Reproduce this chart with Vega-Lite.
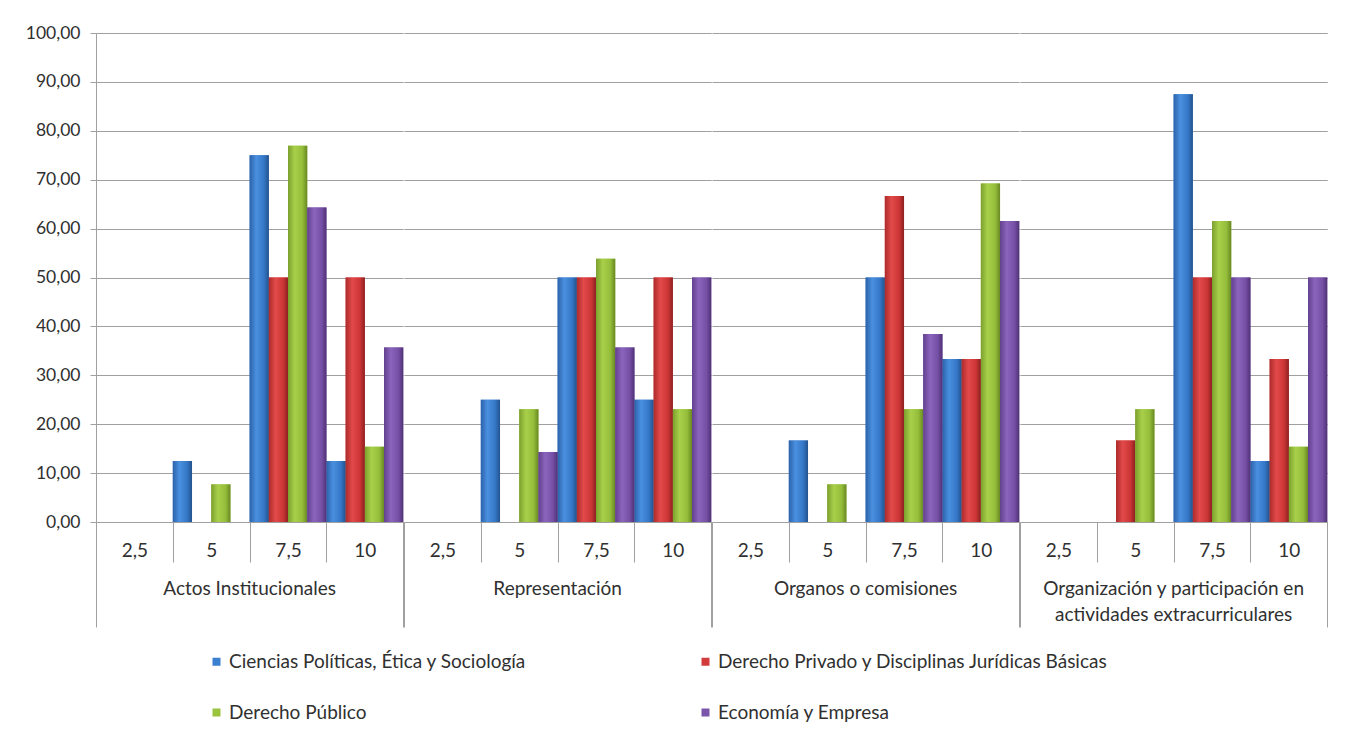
{
  "$schema": "https://vega.github.io/schema/vega-lite/v6.json",
  "background": "white",
  "padding": {"left": 25, "top": 24, "right": 5, "bottom": 5},
  "config": {
    "font": "Lato",
    "view": {"stroke": null},
    "axis": {"labelFont": "Lato", "labelColor": "#303030"},
    "header": {"labelFont": "Lato"},
    "legend": {"labelFont": "Lato"}
  },
  "data": {
    "values": [
      {"grupo": "Actos Institucionales", "nota": "5", "area": "Ciencias Políticas, Ética y Sociología", "valor": 12.5},
      {"grupo": "Actos Institucionales", "nota": "5", "area": "Derecho Público", "valor": 7.69},
      {"grupo": "Actos Institucionales", "nota": "7,5", "area": "Ciencias Políticas, Ética y Sociología", "valor": 75},
      {"grupo": "Actos Institucionales", "nota": "7,5", "area": "Derecho Privado y Disciplinas Jurídicas Básicas", "valor": 50},
      {"grupo": "Actos Institucionales", "nota": "7,5", "area": "Derecho Público", "valor": 76.92},
      {"grupo": "Actos Institucionales", "nota": "7,5", "area": "Economía y Empresa", "valor": 64.29},
      {"grupo": "Actos Institucionales", "nota": "10", "area": "Ciencias Políticas, Ética y Sociología", "valor": 12.5},
      {"grupo": "Actos Institucionales", "nota": "10", "area": "Derecho Privado y Disciplinas Jurídicas Básicas", "valor": 50},
      {"grupo": "Actos Institucionales", "nota": "10", "area": "Derecho Público", "valor": 15.38},
      {"grupo": "Actos Institucionales", "nota": "10", "area": "Economía y Empresa", "valor": 35.71},
      {"grupo": "Representación", "nota": "5", "area": "Ciencias Políticas, Ética y Sociología", "valor": 25},
      {"grupo": "Representación", "nota": "5", "area": "Derecho Público", "valor": 23.08},
      {"grupo": "Representación", "nota": "5", "area": "Economía y Empresa", "valor": 14.29},
      {"grupo": "Representación", "nota": "7,5", "area": "Ciencias Políticas, Ética y Sociología", "valor": 50},
      {"grupo": "Representación", "nota": "7,5", "area": "Derecho Privado y Disciplinas Jurídicas Básicas", "valor": 50},
      {"grupo": "Representación", "nota": "7,5", "area": "Derecho Público", "valor": 53.85},
      {"grupo": "Representación", "nota": "7,5", "area": "Economía y Empresa", "valor": 35.71},
      {"grupo": "Representación", "nota": "10", "area": "Ciencias Políticas, Ética y Sociología", "valor": 25},
      {"grupo": "Representación", "nota": "10", "area": "Derecho Privado y Disciplinas Jurídicas Básicas", "valor": 50},
      {"grupo": "Representación", "nota": "10", "area": "Derecho Público", "valor": 23.08},
      {"grupo": "Representación", "nota": "10", "area": "Economía y Empresa", "valor": 50},
      {"grupo": "Organos o comisiones", "nota": "5", "area": "Ciencias Políticas, Ética y Sociología", "valor": 16.67},
      {"grupo": "Organos o comisiones", "nota": "5", "area": "Derecho Público", "valor": 7.69},
      {"grupo": "Organos o comisiones", "nota": "7,5", "area": "Ciencias Políticas, Ética y Sociología", "valor": 50},
      {"grupo": "Organos o comisiones", "nota": "7,5", "area": "Derecho Privado y Disciplinas Jurídicas Básicas", "valor": 66.67},
      {"grupo": "Organos o comisiones", "nota": "7,5", "area": "Derecho Público", "valor": 23.08},
      {"grupo": "Organos o comisiones", "nota": "7,5", "area": "Economía y Empresa", "valor": 38.46},
      {"grupo": "Organos o comisiones", "nota": "10", "area": "Ciencias Políticas, Ética y Sociología", "valor": 33.33},
      {"grupo": "Organos o comisiones", "nota": "10", "area": "Derecho Privado y Disciplinas Jurídicas Básicas", "valor": 33.33},
      {"grupo": "Organos o comisiones", "nota": "10", "area": "Derecho Público", "valor": 69.23},
      {"grupo": "Organos o comisiones", "nota": "10", "area": "Economía y Empresa", "valor": 61.54},
      {"grupo": "Organización y participación en actividades extracurriculares", "nota": "5", "area": "Derecho Privado y Disciplinas Jurídicas Básicas", "valor": 16.67},
      {"grupo": "Organización y participación en actividades extracurriculares", "nota": "5", "area": "Derecho Público", "valor": 23.08},
      {"grupo": "Organización y participación en actividades extracurriculares", "nota": "7,5", "area": "Ciencias Políticas, Ética y Sociología", "valor": 87.5},
      {"grupo": "Organización y participación en actividades extracurriculares", "nota": "7,5", "area": "Derecho Privado y Disciplinas Jurídicas Básicas", "valor": 50},
      {"grupo": "Organización y participación en actividades extracurriculares", "nota": "7,5", "area": "Derecho Público", "valor": 61.54},
      {"grupo": "Organización y participación en actividades extracurriculares", "nota": "7,5", "area": "Economía y Empresa", "valor": 50},
      {"grupo": "Organización y participación en actividades extracurriculares", "nota": "10", "area": "Ciencias Políticas, Ética y Sociología", "valor": 12.5},
      {"grupo": "Organización y participación en actividades extracurriculares", "nota": "10", "area": "Derecho Privado y Disciplinas Jurídicas Básicas", "valor": 33.33},
      {"grupo": "Organización y participación en actividades extracurriculares", "nota": "10", "area": "Derecho Público", "valor": 15.38},
      {"grupo": "Organización y participación en actividades extracurriculares", "nota": "10", "area": "Economía y Empresa", "valor": 50}
    ]
  },
  "spacing": 0,
  "facet": {
    "column": {
      "field": "grupo",
      "type": "nominal",
      "sort": ["Actos Institucionales", "Representación", "Organos o comisiones", "Organización y participación en actividades extracurriculares"],
      "header": {
        "title": null,
        "labelOrient": "bottom",
        "labelFontSize": 19,
        "labelColor": "#303030",
        "labelBaseline": "top",
        "labelLineHeight": 26,
        "labelPadding": -48,
        "labelExpr": "datum.value == 'Organización y participación en actividades extracurriculares' ? ['Organización y participación en', 'actividades extracurriculares'] : datum.value"
      }
    }
  },
  "spec": {
    "width": 307.25,
    "height": 489,
    "encoding": {
      "x": {
        "field": "nota",
        "type": "nominal",
        "sort": ["2,5", "5", "7,5", "10"],
        "scale": {"domain": ["2,5", "5", "7,5", "10"], "paddingInner": 0, "paddingOuter": 0},
        "axis": {
          "title": null,
          "labelAngle": 0,
          "labelFontSize": 19,
          "labelPadding": -21,
          "tickBand": "extent",
          "tickSize": 40,
          "tickColor": "#a0a0a0",
          "domainColor": "#a0a0a0",
          "grid": false,
          "encoding": {
            "ticks": {"y2": {"condition": {"test": "datum.value === '10' || datum.extra", "value": 105}, "value": 40}}
          }
        }
      },
      "xOffset": {
        "field": "area",
        "type": "nominal",
        "sort": ["Ciencias Políticas, Ética y Sociología", "Derecho Privado y Disciplinas Jurídicas Básicas", "Derecho Público", "Economía y Empresa"],
        "scale": {"domain": ["Ciencias Políticas, Ética y Sociología", "Derecho Privado y Disciplinas Jurídicas Básicas", "Derecho Público", "Economía y Empresa"], "paddingInner": 0, "paddingOuter": 0}
      },
      "y": {
        "field": "valor",
        "type": "quantitative",
        "scale": {"domain": [0, 100], "nice": false},
        "axis": {
          "title": null,
          "values": [0, 10, 20, 30, 40, 50, 60, 70, 80, 90, 100],
          "labelExpr": "replace(format(datum.value, '.2f'), '.', ',')",
          "labelFontSize": 17.5,
          "labelPadding": 10,
          "tickSize": 6,
          "tickColor": "#a0a0a0",
          "domainColor": "#a0a0a0",
          "gridColor": "#a0a0a0"
        }
      }
    },
    "layer": [
      {
        "mark": {"type": "bar"},
        "encoding": {
          "color": {
            "field": "area",
            "type": "nominal",
            "scale": {
              "domain": ["Ciencias Políticas, Ética y Sociología", "Derecho Privado y Disciplinas Jurídicas Básicas", "Derecho Público", "Economía y Empresa"],
              "range": ["#3a7fd0", "#d23c3c", "#9bc43e", "#7a55aa"]
            },
            "legend": {
              "title": null,
              "orient": "none",
              "legendX": 111,
              "legendY": 619,
              "columns": 2,
              "direction": "horizontal",
              "symbolType": "square",
              "symbolSize": 64,
              "symbolStrokeWidth": 0,
              "labelOffset": 3,
              "labelFontSize": 19,
              "labelColor": "#303030",
              "labelLimit": 600,
              "rowPadding": 31,
              "columnPadding": 169
            }
          }
        }
      },
      {
        "transform": [{"filter": "datum.area == 'Ciencias Políticas, Ética y Sociología'"}],
        "mark": {"type": "bar", "color": {"gradient": "linear", "x1": 0, "x2": 1, "y1": 0, "y2": 0, "stops": [{"offset": 0, "color": "#2c62aa"}, {"offset": 0.35, "color": "#4a90e0"}, {"offset": 0.75, "color": "#3477c6"}, {"offset": 1, "color": "#24528c"}]}}
      },
      {
        "transform": [{"filter": "datum.area == 'Derecho Privado y Disciplinas Jurídicas Básicas'"}],
        "mark": {"type": "bar", "color": {"gradient": "linear", "x1": 0, "x2": 1, "y1": 0, "y2": 0, "stops": [{"offset": 0, "color": "#ad2b2b"}, {"offset": 0.35, "color": "#e24a4a"}, {"offset": 0.75, "color": "#cc3535"}, {"offset": 1, "color": "#8c2020"}]}}
      },
      {
        "transform": [{"filter": "datum.area == 'Derecho Público'"}],
        "mark": {"type": "bar", "color": {"gradient": "linear", "x1": 0, "x2": 1, "y1": 0, "y2": 0, "stops": [{"offset": 0, "color": "#7ca02e"}, {"offset": 0.35, "color": "#a9d04a"}, {"offset": 0.75, "color": "#94bd3a"}, {"offset": 1, "color": "#688822"}]}}
      },
      {
        "transform": [{"filter": "datum.area == 'Economía y Empresa'"}],
        "mark": {"type": "bar", "color": {"gradient": "linear", "x1": 0, "x2": 1, "y1": 0, "y2": 0, "stops": [{"offset": 0, "color": "#62408e"}, {"offset": 0.35, "color": "#8b64bc"}, {"offset": 0.75, "color": "#7650a5"}, {"offset": 1, "color": "#503276"}]}}
      }
    ]
  }
}
